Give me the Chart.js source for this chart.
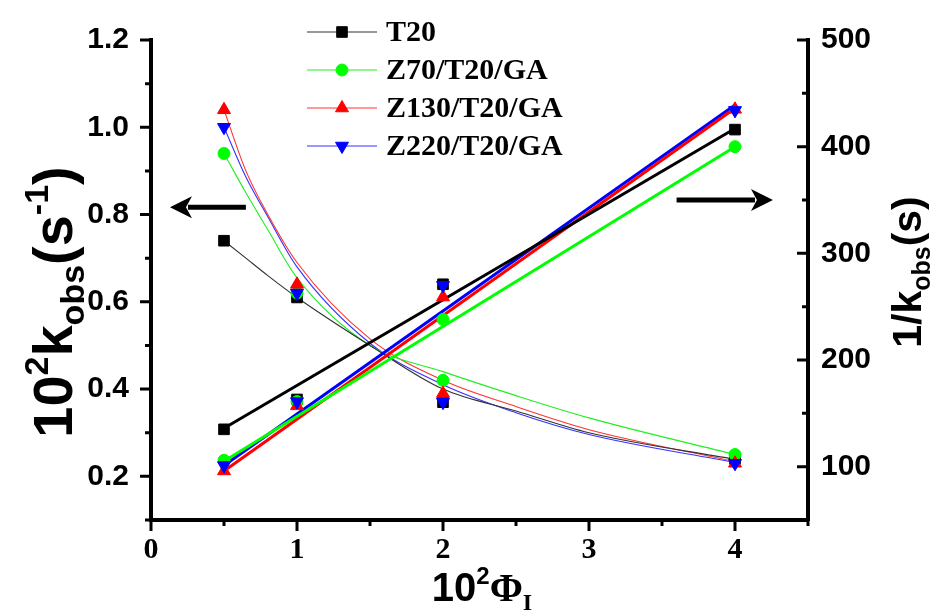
<!DOCTYPE html>
<html lang="en">
<head>
<meta charset="UTF-8" />
<title>kobs vs Phi</title>
<script src="https://cdn.jsdelivr.net/npm/chart.js"></script>
<style>
  * { margin: 0; padding: 0; box-sizing: border-box; }
  body { background: #fff; width: 934px; height: 610px; overflow: hidden; }
  canvas { display: block; }
</style>
</head>
<body>
<canvas id="kChart" width="934" height="610"></canvas>
<script>
// measured points, x = 10^2 Phi_I
const phi = [0.5, 1, 2, 4];

// 10^2 kobs (left axis)
const kT20  = [0.74, 0.61, 0.37, 0.24];
const kZ70  = [0.94, 0.62, 0.42, 0.25];
const kZ130 = [1.04, 0.64, 0.39, 0.23];
const kZ220 = [1.00, 0.62, 0.37, 0.23];

// 1/kobs (right axis)
const rT20  = [135, 163, 271, 416];
const rZ70  = [106, 161, 238, 400];
const rZ130 = [96, 157, 259, 435];
const rZ220 = [101, 161, 270, 434];

// decay fit curves (left axis)
const curveX    = [0.5, 0.65, 0.8, 1, 1.5, 2, 2.5, 3, 4];
const curveT20  = [0.74, 0.70, 0.66, 0.61, 0.50, 0.40, 0.35, 0.30, 0.239];
const curveZ70  = [0.94, 0.85, 0.765, 0.655, 0.50, 0.44, 0.385, 0.334, 0.25];
const curveZ130 = [1.04, 0.90, 0.80, 0.69, 0.515, 0.42, 0.36, 0.307, 0.234];
const curveZ220 = [1.00, 0.886, 0.795, 0.68, 0.505, 0.41, 0.346, 0.296, 0.232];

// linear fits (right axis), ends at x = 0.5 and 4
const fitX    = [0.5, 4];
const fitT20  = [136, 417];
const fitZ70  = [105, 400];
const fitZ130 = [96, 436];
const fitZ220 = [101, 439];

// ticks
const xTicks = [0, 1, 2, 3, 4];
const xMinor = [0.5, 1.5, 2.5, 3.5, 4.5];
const leftTicks = [0.2, 0.4, 0.6, 0.8, 1.0, 1.2];
const leftMinor = [0.1, 0.3, 0.5, 0.7, 0.9, 1.1];
const rightTicks = [100, 200, 300, 400, 500];
const rightMinor = [50, 150, 250, 350, 450];

const series = [
  { label: 'T20',         color: '#000000', thin: '#333333', style: 'rect',     rot: 0,   r: 7.5, k: kT20,  inv: rT20,  curve: curveT20,  fit: fitT20 },
  { label: 'Z70/T20/GA',  color: '#00ff00', thin: '#22ee22', style: 'circle',   rot: 0,   r: 6,   k: kZ70,  inv: rZ70,  curve: curveZ70,  fit: fitZ70 },
  { label: 'Z130/T20/GA', color: '#ff0000', thin: '#ff3333', style: 'triangle', rot: 0,   r: 7.5, k: kZ130, inv: rZ130, curve: curveZ130, fit: fitZ130 },
  { label: 'Z220/T20/GA', color: '#0000ff', thin: '#3333ff', style: 'triangle', rot: 180, r: 7.5, k: kZ220, inv: rZ220, curve: curveZ220, fit: fitZ220 }
];

const SANS = '"Liberation Sans", Arial, sans-serif';
const SERIF = '"Liberation Serif", "Times New Roman", serif';

function pts(xs, ys) {
  return xs.map((x, i) => ({ x: x, y: ys[i] }));
}

const datasets = [];
series.forEach((s, i) => {
  datasets.push({
    data: pts(curveX, s.curve), yAxisID: 'y', showLine: true,
    borderColor: s.thin, borderWidth: 1.1, pointRadius: 0,
    cubicInterpolationMode: 'monotone', order: 20
  });
  datasets.push({
    data: pts(fitX, s.fit), yAxisID: 'y1', showLine: true,
    borderColor: s.color, borderWidth: 3, pointRadius: 0, order: 10
  });
  const mark = {
    pointStyle: s.style, pointRotation: s.rot, pointRadius: s.r,
    pointBackgroundColor: s.color, pointBorderColor: s.color, pointBorderWidth: 1,
    showLine: false, order: 3 - i
  };
  datasets.push(Object.assign({ data: pts(phi, s.k), yAxisID: 'y' }, mark));
  datasets.push(Object.assign({ data: pts(phi, s.inv), yAxisID: 'y1' }, mark));
});

function setTicks(list) {
  return function (scale) { scale.ticks = list.map(v => ({ value: v })); };
}

// minor + major tick marks, left/bottom outward, right inward
const tickMarks = {
  id: 'tickMarks',
  afterDraw(chart) {
    const ctx = chart.ctx, a = chart.chartArea;
    const sx = chart.scales.x, sy = chart.scales.y, sy1 = chart.scales.y1;
    ctx.save();
    ctx.strokeStyle = '#000';
    ctx.lineWidth = 3;
    ctx.beginPath();
    const vert = (scale, vals, x0, len) => vals.forEach(v => {
      const y = scale.getPixelForValue(v);
      ctx.moveTo(x0, y); ctx.lineTo(x0 + len, y);
    });
    const horiz = (vals, len) => vals.forEach(v => {
      const x = sx.getPixelForValue(v);
      ctx.moveTo(x, a.bottom); ctx.lineTo(x, a.bottom + len);
    });
    vert(sy, leftTicks, a.left, -11);
    vert(sy, leftMinor, a.left, -6);
    vert(sy1, rightTicks, a.right, -11);
    vert(sy1, rightMinor, a.right, -6);
    horiz(xTicks, 11);
    horiz(xMinor, 6);
    ctx.stroke();
    ctx.restore();
  }
};

function drawRich(ctx, parts, cx, cy, rot) {
  let total = 0;
  parts.forEach(p => { ctx.font = p.f; p.w = ctx.measureText(p.t).width; total += p.w; });
  ctx.save();
  ctx.translate(cx, cy);
  ctx.rotate(rot);
  ctx.fillStyle = '#000';
  ctx.textBaseline = 'alphabetic';
  ctx.textAlign = 'left';
  let x = -total / 2;
  parts.forEach(p => { ctx.font = p.f; ctx.fillText(p.t, x, p.dy || 0); x += p.w; });
  ctx.restore();
}

const axisTitles = {
  id: 'axisTitles',
  afterDraw(chart) {
    const ctx = chart.ctx;
    drawRich(ctx, [
      { t: '10', f: 'bold 56px ' + SANS },
      { t: '2', f: 'bold 34px ' + SANS, dy: -24 },
      { t: 'k', f: 'bold 56px ' + SANS },
      { t: 'obs', f: 'bold 34px ' + SANS, dy: 12 },
      { t: '(s', f: 'bold 56px ' + SANS },
      { t: '-1', f: 'bold 34px ' + SANS, dy: -24 },
      { t: ')', f: 'bold 56px ' + SANS }
    ], 72, 302, -Math.PI / 2);
    drawRich(ctx, [
      { t: '1/k', f: 'bold 41px ' + SANS },
      { t: 'obs', f: 'bold 25px ' + SANS, dy: 9 },
      { t: '(s)', f: 'bold 41px ' + SANS }
    ], 921, 272, -Math.PI / 2);
    drawRich(ctx, [
      { t: '10', f: 'bold 40px ' + SANS },
      { t: '2', f: 'bold 24px ' + SANS, dy: -17 },
      { t: '\u03A6', f: 'bold 40px ' + SERIF },
      { t: 'I', f: 'bold 24px ' + SERIF, dy: 9 }
    ], 482, 601, 0);
  }
};

// arrows pointing at each axis
const arrows = [
  { axis: 'y',  x0: 0.65, x1: 0.13, v: 0.817 },
  { axis: 'y1', x0: 3.6,  x1: 4.26, v: 350 }
];
const arrowPlugin = {
  id: 'arrowPlugin',
  afterDatasetsDraw(chart) {
    const ctx = chart.ctx, sx = chart.scales.x;
    ctx.save();
    ctx.fillStyle = '#000';
    ctx.strokeStyle = '#000';
    arrows.forEach(ar => {
      const y = chart.scales[ar.axis].getPixelForValue(ar.v);
      const xa = sx.getPixelForValue(ar.x0), xb = sx.getPixelForValue(ar.x1);
      const d = xb > xa ? 1 : -1;
      ctx.lineWidth = 5;
      ctx.beginPath();
      ctx.moveTo(xa, y); ctx.lineTo(xb - d * 18, y);
      ctx.stroke();
      ctx.beginPath();
      ctx.moveTo(xb, y);
      ctx.lineTo(xb - d * 22, y - 11);
      ctx.lineTo(xb - d * 16, y);
      ctx.lineTo(xb - d * 22, y + 11);
      ctx.closePath();
      ctx.fill();
    });
    ctx.restore();
  }
};

const legendPlugin = {
  id: 'legendPlugin',
  afterDraw(chart) {
    const ctx = chart.ctx;
    const rows = [32, 70, 108, 146];
    ctx.save();
    series.forEach((s, i) => {
      const y = rows[i];
      ctx.strokeStyle = s.thin;
      ctx.lineWidth = 1.1;
      ctx.beginPath();
      ctx.moveTo(307, y); ctx.lineTo(377, y);
      ctx.stroke();
      ctx.fillStyle = s.color;
      ctx.strokeStyle = s.color;
      ctx.lineWidth = 1;
      Chart.helpers.drawPoint(ctx, { pointStyle: s.style, radius: s.r, rotation: s.rot, borderWidth: 1 }, 342, y);
      ctx.fillStyle = '#000';
      ctx.font = 'bold 30px ' + SERIF;
      ctx.textBaseline = 'middle';
      ctx.textAlign = 'left';
      ctx.fillText(s.label, 386, y + 1);
    });
    ctx.restore();
  }
};

new Chart(document.getElementById('kChart').getContext('2d'), {
  type: 'scatter',
  data: { datasets: datasets },
  options: {
    responsive: false,
    animation: false,
    layout: { padding: { top: 35, left: 0, right: 0, bottom: 0 } },
    plugins: {
      legend: { display: false },
      tooltip: { enabled: false }
    },
    scales: {
      x: {
        type: 'linear', position: 'bottom', min: 0, max: 4.5,
        afterBuildTicks: setTicks(xTicks),
        afterFit: s => { s.height = 90; },
        grid: { display: false, drawTicks: false },
        border: { display: true, color: '#000', width: 4 },
        ticks: { color: '#000', padding: 12, font: { family: SERIF, size: 30, weight: 'bold' } }
      },
      y: {
        type: 'linear', position: 'left', min: 0.1, max: 1.2,
        afterBuildTicks: setTicks(leftTicks),
        afterFit: s => { s.width = 151; },
        grid: { display: false, drawTicks: false },
        border: { display: true, color: '#000', width: 4 },
        ticks: { color: '#000', padding: 22, font: { family: SANS, size: 30, weight: 'bold' },
                 callback: v => v.toFixed(1) }
      },
      y1: {
        type: 'linear', position: 'right', min: 50, max: 500,
        afterBuildTicks: setTicks(rightTicks),
        afterFit: s => { s.width = 126; },
        grid: { display: false, drawTicks: false },
        border: { display: true, color: '#000', width: 4 },
        ticks: { color: '#000', padding: 13, font: { family: SANS, size: 30, weight: 'bold' } }
      }
    }
  },
  plugins: [arrowPlugin, tickMarks, axisTitles, legendPlugin]
});
</script>
</body>
</html>
